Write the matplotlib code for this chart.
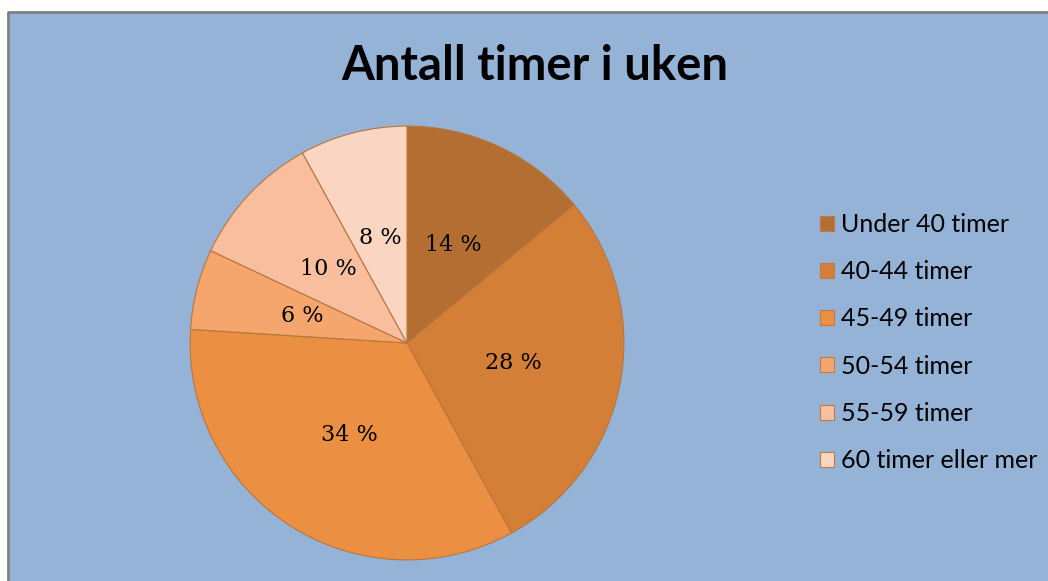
import matplotlib.pyplot as plt
from matplotlib.patches import Rectangle, Patch

# data
categories = ["Under 40 timer", "40-44 timer", "45-49 timer",
              "50-54 timer", "55-59 timer", "60 timer eller mer"]
shares = [14, 28, 34, 6, 10, 8]
colors = ["#B56E31", "#D37F38", "#EB8F42", "#F5A66D", "#F8BE9D", "#FAD5C2"]
title = "Antall timer i uken"

W, H = 1048, 581
fig = plt.figure(figsize=(W / 100, H / 100), dpi=100)
fig.patch.set_facecolor("white")

# blue chart area with grey border on left/top
bg = fig.add_axes([0, 0, 1, 1], zorder=0)
bg.set_xlim(0, W)
bg.set_ylim(H, 0)
bg.axis("off")
bg.add_patch(Rectangle((8, 12), W - 8, H - 12, facecolor="#95B3D7", edgecolor="none"))
bg.plot([8, 8, W], [H, 12, 12], color="#808080", lw=2)

# pie
cx, cy, r = 407, 343, 218
ax = fig.add_axes([(cx - r) / W, (H - cy - r) / H, 2 * r / W, 2 * r / H], zorder=1)
wedges, texts, autotexts = ax.pie(
    shares, colors=colors, startangle=90, counterclock=False,
    autopct="%d %%", pctdistance=0.5,
    wedgeprops=dict(edgecolor="#B8763E", linewidth=0.8),
    textprops=dict(family="DejaVu Serif", fontsize=16, color="black"))
ax.set_xlim(-1.005, 1.005)
ax.set_ylim(-1.005, 1.005)
ax.set_aspect("equal")
ax.axis("off")

fig.text(535 / W, 1 - 66 / H, title, ha="center", va="center",
         family="Lato", fontweight="bold", fontsize=34, zorder=2)

handles = [Patch(facecolor=c, edgecolor="#C07A45", linewidth=0.8) for c in colors]
leg = fig.legend(handles, categories, loc="upper left",
                 bbox_to_anchor=(810 / W, 1 - 203 / H), frameon=False,
                 prop=dict(family="Lato", size=18), handlelength=0.55, handleheight=0.55,
                 handletextpad=0.3, labelspacing=0.97, borderaxespad=0)
leg.set_zorder(2)

fig.savefig("out.png", dpi=100)
